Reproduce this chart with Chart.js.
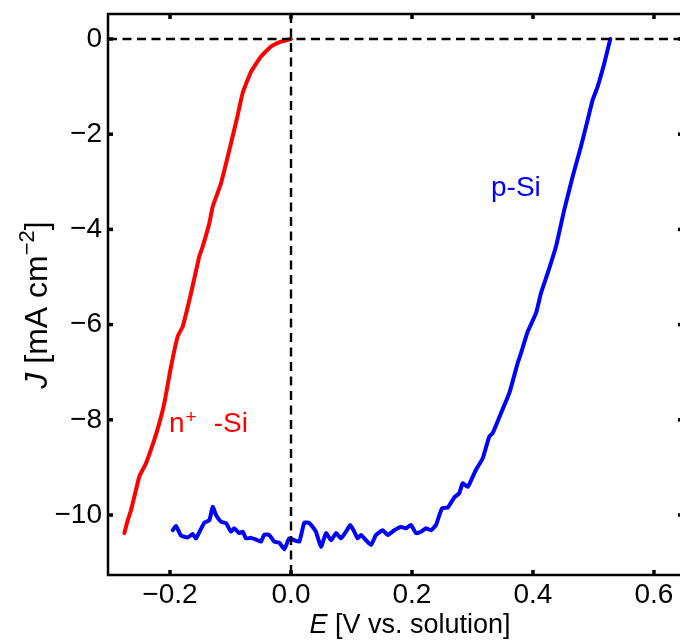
<!DOCTYPE html>
<html>
<head>
<meta charset="utf-8">
<script src="https://cdn.jsdelivr.net/npm/chart.js@4.4.1/dist/chart.umd.min.js"></script>
<style>
  html, body { margin: 0; padding: 0; background: #fff; overflow: hidden; }
  #wrap { width: 680px; height: 641px; overflow: hidden; position: relative; }
  #c { position: absolute; left: 0; top: 0; }
</style>
</head>
<body>
<div id="wrap"><canvas id="c" width="700" height="641"></canvas></div>
<script>
// ---- data ----
const nSiE = [-0.2755, -0.2699, -0.2645, -0.2562, -0.2507, -0.2397, -0.2260, -0.2177, -0.2094, -0.1983,
  -0.1873, -0.1790, -0.1653, -0.1516, -0.1460, -0.1350, -0.1294, -0.1157, -0.0992, -0.0881,
  -0.0798, -0.0661, -0.0496, -0.0331, -0.0165, 0.0];
const nSiJ = [-10.38, -10.11, -9.90, -9.47, -9.19, -8.91, -8.42, -8.07, -7.65, -6.88,
  -6.25, -6.04, -5.34, -4.57, -4.36, -3.87, -3.52, -3.03, -2.19, -1.60,
  -1.13, -0.69, -0.37, -0.16, -0.057, 0.0];

const pSiE = [-0.1955, -0.1901, -0.1818, -0.1707, -0.1625, -0.1570, -0.1433, -0.1350, -0.1294, -0.1240,
  -0.1157, -0.1074, -0.0992, -0.0937, -0.0855, -0.0798, -0.0744, -0.0661, -0.0550, -0.0496,
  -0.0441, -0.0359, -0.0276, -0.0193, -0.0111, -0.0028, 0.0055, 0.0137, 0.0220, 0.0302,
  0.0359, 0.0413, 0.0496, 0.0579, 0.0661, 0.0744, 0.0826, 0.0909, 0.0980, 0.1046,
  0.1102, 0.1157, 0.1240, 0.1322, 0.1405, 0.1516, 0.1598, 0.1707, 0.1818, 0.1901,
  0.1983, 0.2066, 0.2149, 0.2231, 0.2314, 0.2397, 0.2496, 0.2595, 0.2699, 0.2782,
  0.2838, 0.2921, 0.3003, 0.3058, 0.3169, 0.3278, 0.3334, 0.3471, 0.3608, 0.3747,
  0.3802, 0.3912, 0.4050, 0.4132, 0.4243, 0.4380, 0.4517, 0.4656, 0.4793, 0.4904,
  0.4987, 0.5069, 0.5179, 0.5278];
const pSiJ = [-10.32, -10.23, -10.43, -10.47, -10.40, -10.49, -10.16, -10.11, -9.83, -10.00,
  -10.14, -10.17, -10.35, -10.28, -10.38, -10.35, -10.49, -10.48, -10.53, -10.56,
  -10.41, -10.42, -10.56, -10.58, -10.72, -10.49, -10.53, -10.56, -10.16, -10.17,
  -10.25, -10.35, -10.67, -10.38, -10.53, -10.38, -10.49, -10.35, -10.21, -10.35,
  -10.49, -10.42, -10.53, -10.63, -10.42, -10.32, -10.42, -10.32, -10.25, -10.28,
  -10.21, -10.38, -10.35, -10.28, -10.32, -10.21, -9.86, -9.84, -9.63, -9.54,
  -9.33, -9.41, -9.20, -9.05, -8.81, -8.35, -8.28, -7.86, -7.44, -6.81,
  -6.60, -6.15, -5.76, -5.34, -4.92, -4.36, -3.59, -2.89, -2.26, -1.70,
  -1.28, -1.00, -0.51, 0.0];

const xTicks = [-0.2, 0.0, 0.2, 0.4, 0.6];
const yTicks = [0, -2, -4, -6, -8, -10];
const xRange = [-0.3025, 0.648];
const yRange = [-11.26, 0.525];

const FONT = '"Liberation Sans", Arial, Helvetica, sans-serif';
const minus = s => s.replace('-', '\u2212');

const toPts = (xs, ys) => xs.map((x, i) => ({x: x, y: ys[i]}));

// ---- plugin: frame, inward ticks, dashed zero lines, titles, labels ----
function drawParts(ctx, parts, x, y, align) {
  let total = 0;
  parts.forEach(p => { ctx.font = p.font; p.w = ctx.measureText(p.t).width + (p.gap || 0); total += p.w; });
  let cx = align === 'center' ? x - total / 2 : x;
  parts.forEach(p => {
    ctx.font = p.font;
    ctx.fillText(p.t, cx, y + (p.dy || 0));
    cx += p.w;
  });
  return total;
}

const decor = {
  id: 'decor',
  afterDatasetsDraw(chart) {
    const {ctx, chartArea: a, scales: {x, y}} = chart;
    ctx.save();
    // dashed zero lines
    ctx.strokeStyle = '#000';
    ctx.lineWidth = 2.4;
    ctx.setLineDash([9, 5.5]);
    const y0 = y.getPixelForValue(0), x0 = x.getPixelForValue(0);
    ctx.beginPath(); ctx.moveTo(a.left, y0); ctx.lineTo(a.right, y0); ctx.stroke();
    ctx.beginPath(); ctx.moveTo(x0, a.top); ctx.lineTo(x0, a.bottom); ctx.stroke();
    ctx.setLineDash([]);
    // frame
    ctx.lineWidth = 2.5;
    ctx.strokeRect(a.left, a.top, a.right - a.left, a.bottom - a.top);
    // inward ticks
    ctx.lineWidth = 3.5;
    const L = 5;
    xTicks.forEach(v => {
      const px = x.getPixelForValue(v);
      ctx.beginPath(); ctx.moveTo(px, a.bottom); ctx.lineTo(px, a.bottom - L); ctx.stroke();
      ctx.beginPath(); ctx.moveTo(px, a.top); ctx.lineTo(px, a.top + L); ctx.stroke();
    });
    yTicks.forEach(v => {
      const py = y.getPixelForValue(v);
      ctx.beginPath(); ctx.moveTo(a.left, py); ctx.lineTo(a.left + L, py); ctx.stroke();
      ctx.beginPath(); ctx.moveTo(a.right, py); ctx.lineTo(a.right - L, py); ctx.stroke();
    });
    // curve labels
    ctx.textBaseline = 'alphabetic';
    ctx.textAlign = 'left';
    ctx.fillStyle = '#0000ff';
    drawParts(ctx, [{t: 'p-Si', font: '28px ' + FONT}],
      x.getPixelForValue(0.3306), y.getPixelForValue(-3.30), 'left');
    ctx.fillStyle = '#ff0000';
    drawParts(ctx, [
      {t: 'n', font: '28px ' + FONT, gap: 1},
      {t: '+', font: '19px ' + FONT, dy: -9, gap: 17},
      {t: '-Si', font: '28px ' + FONT}
    ], x.getPixelForValue(-0.2017), y.getPixelForValue(-8.256), 'left');
    // axis titles
    ctx.fillStyle = '#000';
    drawParts(ctx, [
      {t: 'E', font: 'italic 27px ' + FONT},
      {t: ' [V vs. solution]', font: '27px ' + FONT}
    ], 410, 633, 'center');
    ctx.save();
    ctx.translate(47, 305);
    ctx.rotate(-Math.PI / 2);
    drawParts(ctx, [
      {t: 'J', font: 'italic 32px ' + FONT},
      {t: ' [mA cm', font: '32px ' + FONT},
      {t: '\u22122', font: '22px ' + FONT, dy: -13},
      {t: ']', font: '32px ' + FONT}
    ], 0, 0, 'center');
    ctx.restore();
    ctx.restore();
  }
};

new Chart(document.getElementById('c'), {
  type: 'scatter',
  data: {
    datasets: [
      { label: 'n+-Si', data: toPts(nSiE, nSiJ), showLine: true, borderColor: '#ff0000',
        borderWidth: 4, pointRadius: 0, tension: 0.15, borderJoinStyle: 'round', borderCapStyle: 'round' },
      { label: 'p-Si', data: toPts(pSiE, pSiJ), showLine: true, borderColor: '#0000ff',
        borderWidth: 4, pointRadius: 0, tension: 0.15, borderJoinStyle: 'round', borderCapStyle: 'round' }
    ]
  },
  options: {
    responsive: false,
    animation: false,
    events: [],
    layout: { padding: { top: 14, right: 17, left: 0, bottom: 0 } },
    plugins: { legend: { display: false }, tooltip: { enabled: false } },
    scales: {
      x: {
        type: 'linear', min: xRange[0], max: xRange[1],
        afterBuildTicks: s => { s.ticks = xTicks.map(v => ({value: v})); },
        afterFit: s => { s.height = 66; s.paddingLeft = 0; s.paddingRight = 0; },
        grid: { display: false, drawTicks: false },
        border: { display: false },
        ticks: { color: '#000', font: { size: 28, family: FONT }, padding: 3,
          callback: v => minus(Number(v).toFixed(1)) }
      },
      y: {
        type: 'linear', min: yRange[0], max: yRange[1],
        afterBuildTicks: s => { s.ticks = yTicks.map(v => ({value: v})); },
        afterFit: s => { s.width = 108; s.paddingTop = 0; s.paddingBottom = 0; },
        grid: { display: false, drawTicks: false },
        border: { display: false },
        ticks: { color: '#000', font: { size: 28, family: FONT }, padding: 6,
          callback: v => minus(String(v)) }
      }
    }
  },
  plugins: [decor]
});
</script>
</body>
</html>
